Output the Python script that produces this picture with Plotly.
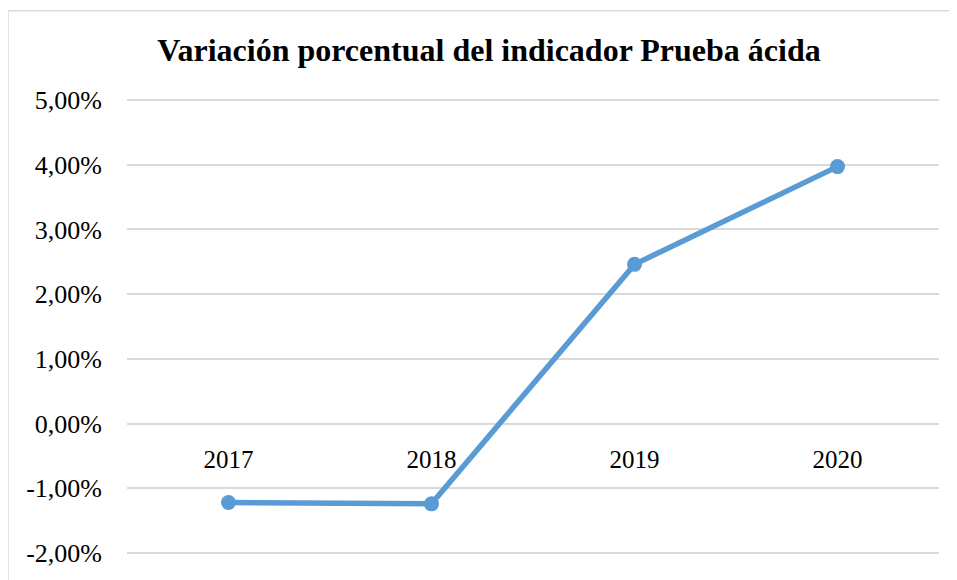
import plotly.graph_objects as go

years = ["2017", "2018", "2019", "2020"]
variation_pct = [-1.22, -1.24, 2.46, 3.97]
y_tick_values = [-2, -1, 0, 1, 2, 3, 4, 5]
y_tick_labels = ["-2,00%", "-1,00%", "0,00%", "1,00%", "2,00%", "3,00%", "4,00%", "5,00%"]

OFF = 8  # default page body margin
PAD = 0.03  # small range padding so edge gridlines are drawn
TOP_PX, BOT_PX = 100, 557
ppu = (BOT_PX - TOP_PX) / 7.0
W, H = 957 - OFF, 580 - OFF
L = 127 - OFF
T = TOP_PX - PAD * ppu - OFF
R = W - (939 - OFF)
B = H - (BOT_PX + PAD * ppu - OFF)
pw, ph = W - L - R, H - T - B

fig = go.Figure()
fig.add_trace(go.Scatter(
    x=years, y=variation_pct, mode="lines+markers",
    line=dict(color="#5B9BD5", width=5.5),
    marker=dict(color="#5B9BD5", size=15),
    showlegend=False, cliponaxis=False,
))

y0r, y1r = y_tick_values[0] - PAD, y_tick_values[-1] + PAD
zero_pos = (0 - y0r) / (y1r - y0r)

fig.update_layout(
    width=W, height=H,
    margin=dict(l=L, r=R, t=T, b=B),
    paper_bgcolor="white", plot_bgcolor="white",
    font=dict(family="Liberation Serif, Times New Roman, serif", color="#000000", size=24),
    title=dict(text="<b>Variación porcentual del indicador Prueba ácida</b>",
               x=(489 - OFF) / W, xanchor="center", y=1 - (50 - OFF) / H, yanchor="middle",
               font=dict(size=32, family="Liberation Serif, Times New Roman, serif")),
    xaxis=dict(type="category", range=[-0.5, 3.5], showgrid=False, zeroline=False,
               showline=False, anchor="free", position=zero_pos,
               ticks="", ticklabelstandoff=18, tickfont=dict(size=25)),
    yaxis=dict(range=[y0r, y1r], tickvals=y_tick_values, ticktext=y_tick_labels,
               showgrid=True, gridcolor="#d9d9d9", gridwidth=1.5, zeroline=False,
               showline=False, ticks="", ticklabelstandoff=24, tickfont=dict(size=26)),
    shapes=[dict(type="rect", xref="paper", yref="paper",
                 x0=(0 - L) / pw, x1=(W + 20 - L) / pw,
                 y0=-(B + 20) / ph, y1=(H - B - 2) / ph,
                 line=dict(color="#d9d9d9", width=1.5), fillcolor="rgba(0,0,0,0)",
                 layer="below")],
)

fig.write_html("out.html")
